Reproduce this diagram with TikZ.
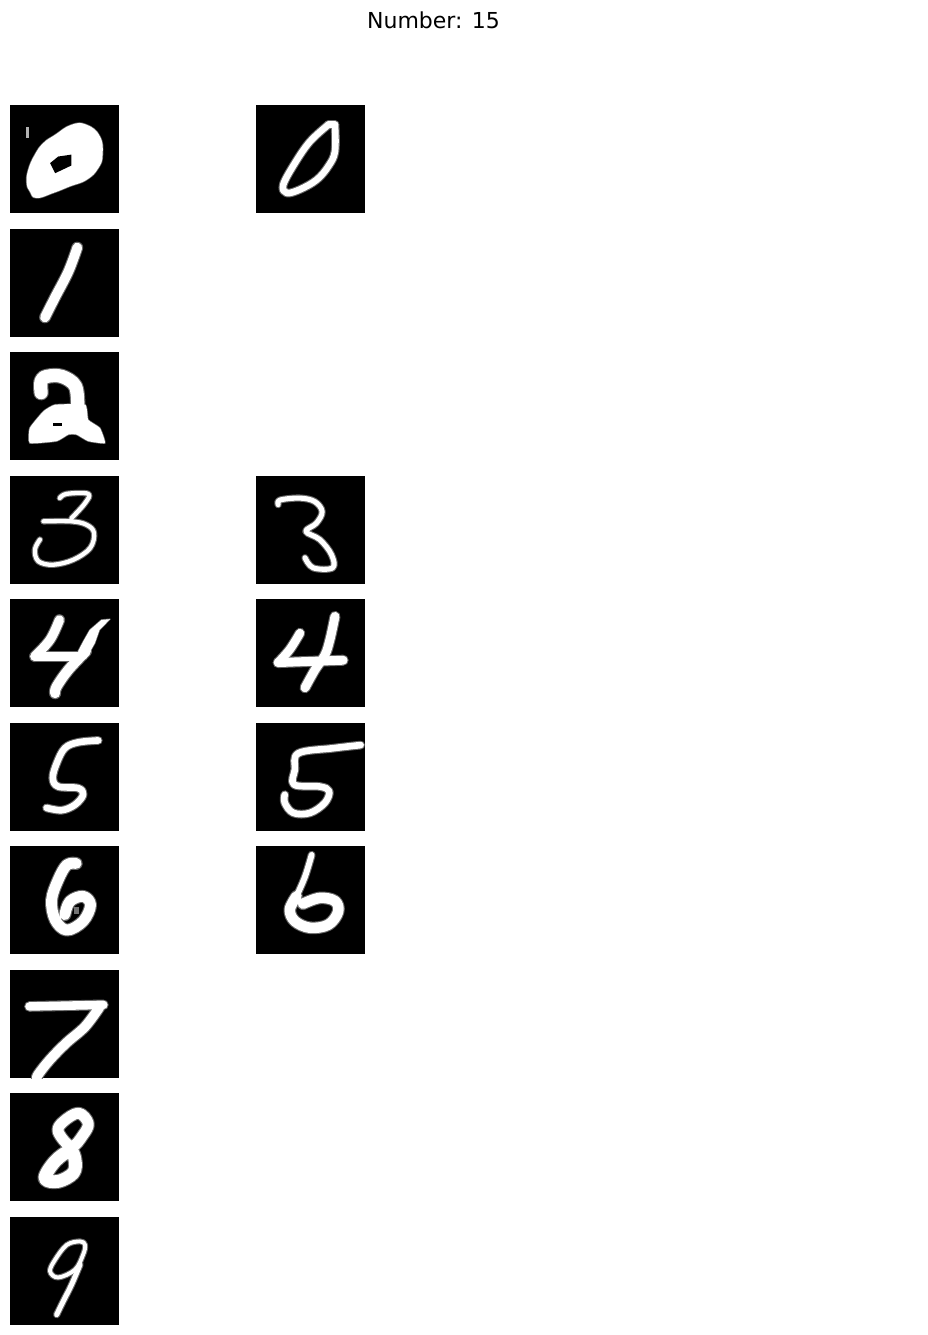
\documentclass[tikz,border=0pt]{standalone}
\usepackage{fontspec}
\setmainfont{DejaVu Sans}
\tikzset{
    tile/.style={x=3.89pt,y=-3.875pt},
    pencore/.style={draw=white,line width=((#1)-0.2)*3.89pt,line join=round,line cap=round},
    penhalo/.style={draw=white!40!black,line width=((#1)+0.35)*3.89pt,line join=round,line cap=round},
    pen/.style={pencore=#1},
    patch/.style={fill=white},
    halopass/.style={pen/.style={penhalo=##1},patch/.style={fill=white!40!black,draw=white!40!black,line width=1.4pt,line join=round}},
}
\newcommand{\curve}[2]{\draw[pen=#1] plot[smooth,tension=0.6] coordinates {#2};}
\newcommand{\ring}[2]{\draw[pen=#1] plot[smooth cycle,tension=0.6] coordinates {#2};}
% every digit is drawn twice: soft edge first, white body over it
\newcommand{\digit}[3]{%
    \begin{scope}[shift={(#1,#2)},tile]
        \begin{scope}[halopass] #3 \end{scope}
        \begin{scope} #3 \end{scope}
    \end{scope}}
\begin{document}
\begin{tikzpicture}[x=1pt,y=-1pt]
    \useasboundingbox (0,0) rectangle (928,1335);
    \node[font=\fontsize{22pt}{26pt}\selectfont] (title) at (433.5,20) {Number: 15};

    % black tiles
    \foreach \py in {105,229,352,476,599,723,846,970,1093,1217}
        \fill[black] (10,\py) rectangle (119,\py+108.3);
    \foreach \py in {105,476,599,723,846}
        \fill[black] (256,\py) rectangle (365,\py+108.3);

    % left column
    \digit{10}{105}{
        \fill[patch] plot[smooth cycle,tension=0.8] coordinates {(4.3,20.1) (4.7,16.7) (6.4,12.8) (8.6,9.8) (11.6,7.7) (15.8,5.1) (19.7,5.1) (23.1,8.1) (23.8,12.8) (22.7,16.3) (19.7,19.3) (15.4,21) (11.1,22.7) (6.8,24) (5.1,22.3)};
    }
    \begin{scope}[shift={(10,105)},tile]
        \fill[black] (10.3,15) -- (12.4,13.3) -- (15.8,12.8) -- (15.8,15.6) -- (11.6,17.6) -- cycle;
        \fill[white!70!black] (4.2,5.7) rectangle (4.8,8.5);
    \end{scope}
    \digit{10}{229}{
        \curve{2.7}{(17.3,4.8) (15,11) (11.5,17.8) (9,22.8)}
    }
    \digit{10}{352}{
        \curve{3.6}{(8,10.5) (8,7.5) (9.5,6.3) (13.3,6.3) (16.8,8.8) (17.4,14)}
        \fill[patch] plot[smooth cycle,tension=0.25] coordinates {(5.1,19.6) (8.6,15.3) (11.6,13.6) (19.3,13.6) (20.1,17.5) (23.1,19.6) (24.4,23.5) (20.1,23) (17.1,21.3) (15,21.3) (12,23) (5.1,23.5)};
        \fill[black] (11.1,18.3) rectangle (13.3,19);
    }
    \digit{10}{476}{
        \curve{1.3}{(12.8,5.7) (14.6,4.6) (20.1,4.6) (19.3,7) (15.8,10.9)}
        \curve{1.3}{(8.6,11.7) (15.8,11.7) (19.7,12.6) (21.6,14.7) (20.6,18.6) (16.3,21.6) (11.1,22.9) (7.3,22) (6.4,19) (7.7,16.4)}
    }
    \digit{10}{599}{
        \curve{2.6}{(12.7,5.4) (10.3,10.5) (6.4,14.8)}
        \draw[pen=2.5] (6.4,14.8) -- (18,14.8);
        \fill[patch] (25.7,5.2) -- (23.5,5.4) -- (20.5,8) -- (18.8,11) -- (17.5,13.5) -- (19.5,15.5) -- (21.8,11.4) -- (23,8) -- cycle;
        \curve{2.8}{(19.5,13.5) (15,18.3) (12,22.6) (11.6,24.3)}
    }
    \digit{10}{723}{
        \curve{1.9}{(22.7,4.5) (17.5,5) (14.1,6.5) (12,10.4) (11,14.2) (12.4,16.4) (17.5,16.8) (18.8,18.5) (16.7,21.1) (13.3,22.5) (9.4,21.9)}
    }
    \digit{10}{846}{
        \curve{3}{(17,4.5) (14.6,4.9) (12.4,8.7) (10.7,13.9) (11.6,19) (14.6,21.7) (18.8,19.4) (20.7,15.2) (18.8,13) (15.4,14.3) (14.1,17.7)}
        \fill[white!45!black] (16.5,15.8) rectangle (17.8,17.5);
    }
    \digit{10}{970}{
        \clip (0,0) rectangle (28,28);
        \draw[pen=2.4] (5,9.4) -- (24,9);
        \curve{2.7}{(23,9.6) (19.3,14.6) (14.5,18.8) (10.3,23.1) (7.3,26.9) (6.9,28)}
    }
    \digit{10}{1093}{
        \ring{3}{(13.7,7.4) (17.6,5.2) (20.1,7.8) (18.8,10.8) (15.8,13.8) (12.4,10)}
        \ring{3.5}{(15.4,15) (11.6,17.6) (9,22) (12.4,22.8) (16.3,20.6) (16.7,17.2)}
    }
    \digit{10}{1217}{
        \ring{1.2}{(18,6.3) (14.6,7.2) (11.6,11) (10.3,14) (12.4,15.6) (16.7,13.6) (18.8,9.7) (19.3,7.2)}
        \curve{1.5}{(18,12.3) (15.8,17.5) (13.7,21.7) (12,25.2)}
    }

    % right column
    \digit{256}{105}{
        \curve{1.9}{(18.6,5.1) (13.9,9.4) (10,15) (7,20.6) (7.9,22.7) (11.3,21.8) (15.6,19.3) (18.6,15.8) (20.3,12) (20.3,5.1)}
        \draw[pen=1.9] (18.6,5.1) -- (20.3,5.1);
    }
    \digit{256}{476}{
        \curve{1.5}{(5.7,7.4) (6.2,6.2) (11.3,5.7) (15.1,6.6) (17,9.2) (15.5,12.2) (12.8,14.3) (16.4,16.4) (19.4,20.3) (19.7,23.7) (14.7,23.7) (12.6,21.1)}
    }
    \digit{256}{599}{
        \curve{2.4}{(11.3,8.8) (8.7,13) (5.7,16.4)}
        \draw[pen=2.5] (5.7,16.4) -- (22.4,15.8);
        \curve{2.5}{(20.3,4.5) (19,10.5) (17.7,14.5) (15.2,18.2) (12.6,22.9)}
    }
    \digit{256}{723}{
        \curve{1.9}{(26.9,5.7) (19.9,6.5) (10.9,7.8) (10,12) (9.8,15.9) (16.4,16.4) (18.8,17.6) (17.7,20.6) (13.9,23.2) (9.6,23.2) (7.4,20.6) (7.4,18.5)}
    }
    \digit{256}{846}{
        \curve{1.7}{(14.3,2.3) (12.6,7.9) (10.4,13)}
        \curve{2.9}{(10.4,13) (8.7,16.4) (10,19.4) (13.9,21.1) (18.6,20.3) (21.1,17) (20.3,14.2) (16.4,13.4) (12.1,14.9)}
    }
\end{tikzpicture}
\end{document}
